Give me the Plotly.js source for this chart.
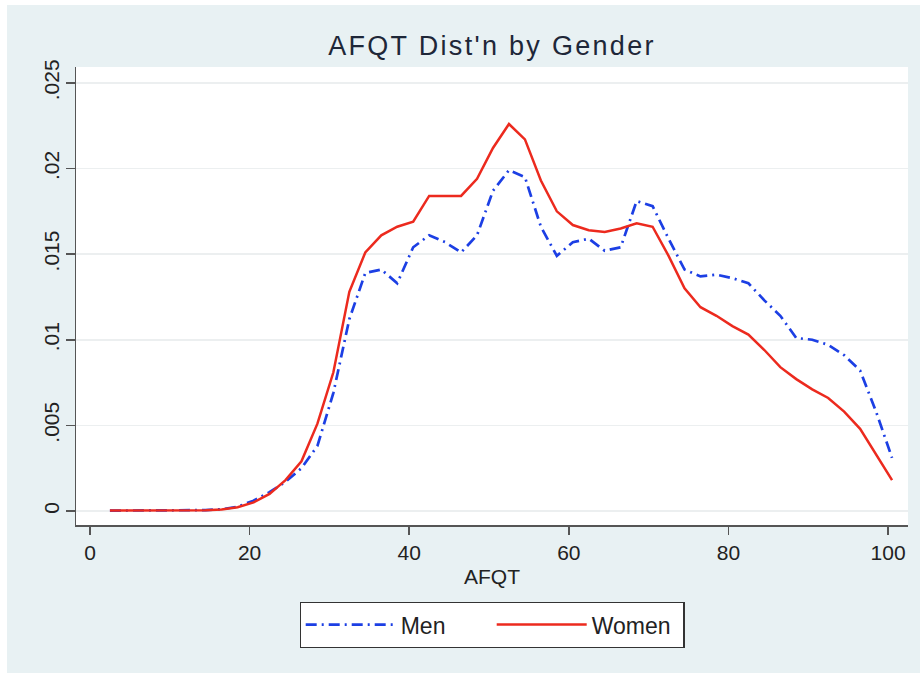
<!DOCTYPE html>
<html>
<head>
<meta charset="utf-8">
<script src="https://cdn.plot.ly/plotly-3.0.1.min.js"></script>
<style>
  html, body { margin: 0; padding: 0; background: #ffffff; }
  #chart { position: absolute; left: 7px; top: 5px; width: 913px; height: 668px; }
  .gtitle { letter-spacing: 2.3px; }
</style>
</head>
<body>
<div id="chart"></div>
<script>
// AFQT score grid (kernel density evaluation points)
const afqt = [2.5, 4.5, 6.5, 8.5, 10.5, 12.5, 14.5, 16.5, 18.5, 20.5,
              22.5, 24.5, 26.5, 28.5, 30.5, 32.5, 34.5, 36.5, 38.5, 40.5,
              42.5, 44.5, 46.5, 48.5, 50.5, 52.5, 54.5, 56.5, 58.5, 60.5,
              62.5, 64.5, 66.5, 68.5, 70.5, 72.5, 74.5, 76.5, 78.5, 80.5,
              82.5, 84.5, 86.5, 88.5, 90.5, 92.5, 94.5, 96.5, 98.5, 100.5];

// Density for men
const menDensity = [0.00002, 0.00002, 0.00003, 0.00003, 0.00004, 0.00004, 0.00005, 0.0001, 0.00025, 0.0006,
                    0.0011, 0.0017, 0.0025, 0.0038, 0.0069, 0.0112, 0.0139, 0.0141, 0.0133, 0.0154,
                    0.0161, 0.0157, 0.0151, 0.0161, 0.0187, 0.0199, 0.0195, 0.0166, 0.0149, 0.0157,
                    0.0159, 0.0152, 0.0154, 0.0181, 0.0178, 0.0159, 0.0141, 0.0137, 0.0138, 0.0136,
                    0.0133, 0.0123, 0.0114, 0.0101, 0.0100, 0.0097, 0.0091, 0.0082, 0.0058, 0.0031];

// Density for women
const womenDensity = [0.00002, 0.00002, 0.00002, 0.00003, 0.00003, 0.00003, 0.00004, 0.00008, 0.00022, 0.0005,
                      0.0010, 0.0018, 0.0029, 0.0051, 0.0081, 0.0128, 0.0151, 0.0161, 0.0166, 0.0169,
                      0.0184, 0.0184, 0.0184, 0.0194, 0.0212, 0.0226, 0.0217, 0.0193, 0.0175, 0.0167,
                      0.0164, 0.0163, 0.0165, 0.0168, 0.0166, 0.0149, 0.0130, 0.0119, 0.0114, 0.0108,
                      0.0103, 0.0094, 0.0084, 0.0077, 0.0071, 0.0066, 0.0058, 0.0048, 0.0033, 0.0018];

// Tick labels
const xTickVals = [0, 20, 40, 60, 80, 100];
const yTickVals = [0, 0.005, 0.01, 0.015, 0.02, 0.025];
const yTickText = ['0', '.005', '.01', '.015', '.02', '.025'];

const seriesNames = ['Men', 'Women'];
const chartTitle = "AFQT Dist'n by Gender";
const xTitle = 'AFQT';

const FONT = '"Liberation Sans", Arial, Helvetica, sans-serif';

const traces = [
  {
    x: afqt, y: menDensity, name: seriesNames[0],
    type: 'scatter', mode: 'lines',
    line: { color: '#1c3fe4', width: 2.7, dash: '11px,5px,2px,5px' }
  },
  {
    x: afqt, y: womenDensity, name: seriesNames[1],
    type: 'scatter', mode: 'lines',
    line: { color: '#ec2a1e', width: 2.5 }
  }
];

const layout = {
  width: 913, height: 668,
  margin: { l: 69, r: 12, t: 62, b: 148, pad: 0 },
  paper_bgcolor: '#e8f1f3',
  plot_bgcolor: '#ffffff',
  font: { family: FONT, color: '#222222', size: 21 },
  title: {
    text: chartTitle,
    font: { family: FONT, size: 27, color: '#1e2738' },
    x: 0.5, xref: 'paper', xanchor: 'center',
    y: 1 - 41 / 668, yref: 'container', yanchor: 'middle'
  },
  xaxis: {
    range: [-1.75, 102.5],
    tickvals: xTickVals,
    showgrid: false, zeroline: false,
    showline: true, linecolor: '#555555', linewidth: 1.5,
    ticks: 'outside', ticklen: 8, tickwidth: 1.5, tickcolor: '#555555',
    tickfont: { family: FONT, size: 21, color: '#222222' },
    title: { text: xTitle, font: { family: FONT, size: 21, color: '#222222' }, standoff: 6 }
  },
  yaxis: {
    range: [-0.00082, 0.02593],
    tickvals: yTickVals, ticktext: yTickText,
    tickangle: -90,
    ticklabelstandoff: -2,
    showgrid: true, gridcolor: '#eceff0', gridwidth: 1.5,
    zeroline: false,
    showline: true, linecolor: '#555555', linewidth: 1.5,
    ticks: 'outside', ticklen: 9, tickwidth: 1.5, tickcolor: '#555555',
    tickfont: { family: FONT, size: 21, color: '#222222' }
  },
  showlegend: true,
  legend: {
    orientation: 'h',
    x: 0.5, xanchor: 'center',
    y: -0.168, yanchor: 'top',
    bgcolor: '#ffffff', bordercolor: '#333333', borderwidth: 1.2,
    font: { family: FONT, size: 23, color: '#222222' },
    itemwidth: 90,
    entrywidth: 86, entrywidthmode: 'pixels',
    traceorder: 'normal'
  }
};

Plotly.newPlot('chart', traces, layout, { displayModeBar: false, staticPlot: true });
</script>
</body>
</html>
